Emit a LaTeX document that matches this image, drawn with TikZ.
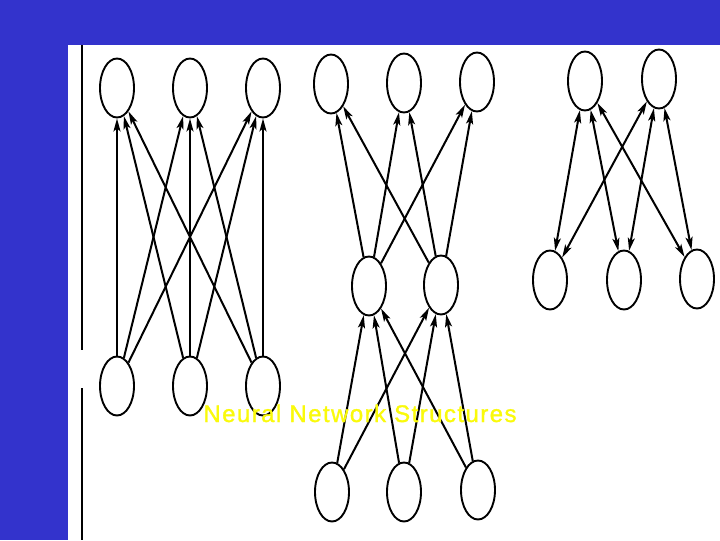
\documentclass[tikz,border=0pt]{standalone}
\usepackage{fontspec}
\usepackage{xcolor}
\usepackage{tikz}
\usetikzlibrary{arrows.meta, shapes.geometric}
\newfontfamily\titlefont[LetterSpace=6, FakeBold=1.2]{Liberation Sans}
\definecolor{slideblue}{RGB}{51,51,204}
\definecolor{titleyellow}{RGB}{250,250,10}

\begin{document}
\begin{tikzpicture}[
  x=1pt, y=-1pt,
  neuron/.style={ellipse, draw, line width=1.9pt, minimum width=34pt,
    minimum height=59pt, inner sep=0pt},
  arrow/.style={-{Stealth[length=13pt, width=7pt, inset=3pt]}, line width=2pt},
  biarrow/.style={{Stealth[length=13pt, width=7pt, inset=3pt]}-{Stealth[length=13pt, width=7pt, inset=3pt]},
    line width=2pt},
  title/.style={text=titleyellow, font=\titlefont\fontsize{24}{28}\selectfont}
]
  % slide background
  \fill[slideblue] (0,0) rectangle (720,540);
  \fill[white] (68,45) rectangle (720,540);
  \draw[line width=1.5pt] (82,45) -- (82,350);
  \draw[line width=1.5pt] (82,388) -- (82,540);

  % single layer
  \node[neuron] (outa) at (117,88) {};
  \node[neuron] (outb) at (190,88) {};
  \node[neuron] (outc) at (263,88) {};
  \node[neuron] (ina) at (117,386) {};
  \node[neuron] (inb) at (190,386) {};
  \node[neuron] (inc) at (263,386) {};

  \draw[arrow] (ina) -- (outa);
  \draw[arrow] (ina) -- (outb);
  \draw[arrow] (ina) -- (outc);
  \draw[arrow] (inb) -- (outa);
  \draw[arrow] (inb) -- (outb);
  \draw[arrow] (inb) -- (outc);
  \draw[arrow] (inc) -- (outa);
  \draw[arrow] (inc) -- (outb);
  \draw[arrow] (inc) -- (outc);

  % multilayer
  \node[neuron] (topa) at (331,84) {};
  \node[neuron] (topb) at (404,83) {};
  \node[neuron] (topc) at (477,82) {};
  \node[neuron] (hida) at (369,286) {};
  \node[neuron] (hidb) at (441,285) {};
  \node[neuron] (bota) at (332,492) {};
  \node[neuron] (botb) at (404,492) {};
  \node[neuron] (botc) at (478,490) {};

  \draw[arrow] (hida) -- (topa);
  \draw[arrow] (hida) -- (topb);
  \draw[arrow] (hida) -- (topc);
  \draw[arrow] (hidb) -- (topa);
  \draw[arrow] (hidb) -- (topb);
  \draw[arrow] (hidb) -- (topc);
  \draw[arrow] (bota) -- (hida);
  \draw[arrow] (bota) -- (hidb);
  \draw[arrow] (botb) -- (hida);
  \draw[arrow] (botb) -- (hidb);
  \draw[arrow] (botc) -- (hida);
  \draw[arrow] (botc) -- (hidb);

  % bidirectional layer
  \node[neuron] (upa) at (585,81) {};
  \node[neuron] (upb) at (659,79) {};
  \node[neuron] (lowa) at (550,280) {};
  \node[neuron] (lowb) at (624,280) {};
  \node[neuron] (lowc) at (697,279) {};

  \draw[biarrow] (upa) -- (lowa);
  \draw[biarrow] (upa) -- (lowb);
  \draw[biarrow] (upa) -- (lowc);
  \draw[biarrow] (upb) -- (lowa);
  \draw[biarrow] (upb) -- (lowb);
  \draw[biarrow] (upb) -- (lowc);

  % slide title
  \node[title, anchor=base] (caption) at (360,422) {Neural Network Structures};
\end{tikzpicture}
\end{document}
